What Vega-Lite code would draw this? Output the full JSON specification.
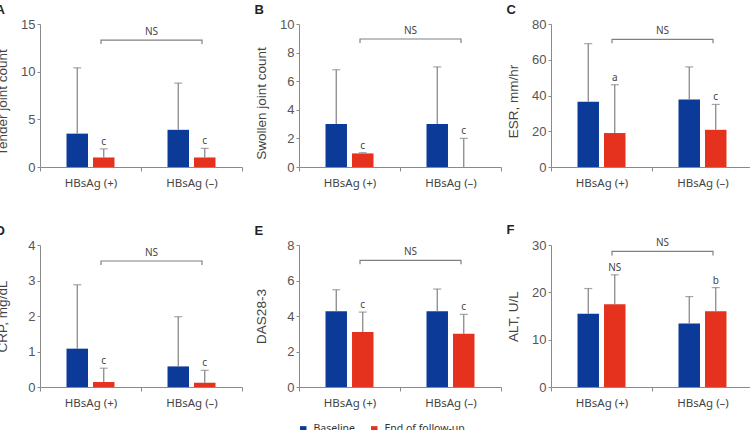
{
  "$schema": "https://vega.github.io/schema/vega-lite/v6.json",
  "padding": {"left": -5, "top": 4, "right": 0, "bottom": 0},
  "background": "white",
  "datasets": {
    "bars": [
      {"panel": "A", "group": "HBsAg (+)", "time": "Baseline", "mean": 3.5, "upper": 10.4, "label": ""},
      {"panel": "A", "group": "HBsAg (+)", "time": "End of follow-up", "mean": 1.0, "upper": 1.9, "label": "c"},
      {"panel": "A", "group": "HBsAg (–)", "time": "Baseline", "mean": 3.9, "upper": 8.8, "label": ""},
      {"panel": "A", "group": "HBsAg (–)", "time": "End of follow-up", "mean": 1.0, "upper": 1.95, "label": "c"},
      {"panel": "B", "group": "HBsAg (+)", "time": "Baseline", "mean": 3.0, "upper": 6.8, "label": ""},
      {"panel": "B", "group": "HBsAg (+)", "time": "End of follow-up", "mean": 0.95, "upper": 1.0, "label": "c"},
      {"panel": "B", "group": "HBsAg (–)", "time": "Baseline", "mean": 3.0, "upper": 7.0, "label": ""},
      {"panel": "B", "group": "HBsAg (–)", "time": "End of follow-up", "mean": 0, "upper": 2.0, "label": "c"},
      {"panel": "C", "group": "HBsAg (+)", "time": "Baseline", "mean": 36.5, "upper": 69, "label": ""},
      {"panel": "C", "group": "HBsAg (+)", "time": "End of follow-up", "mean": 19, "upper": 46, "label": "a"},
      {"panel": "C", "group": "HBsAg (–)", "time": "Baseline", "mean": 37.8, "upper": 56, "label": ""},
      {"panel": "C", "group": "HBsAg (–)", "time": "End of follow-up", "mean": 20.8, "upper": 35, "label": "c"},
      {"panel": "D", "group": "HBsAg (+)", "time": "Baseline", "mean": 1.08, "upper": 2.88, "label": ""},
      {"panel": "D", "group": "HBsAg (+)", "time": "End of follow-up", "mean": 0.14, "upper": 0.53, "label": "c"},
      {"panel": "D", "group": "HBsAg (–)", "time": "Baseline", "mean": 0.58, "upper": 1.98, "label": ""},
      {"panel": "D", "group": "HBsAg (–)", "time": "End of follow-up", "mean": 0.12, "upper": 0.47, "label": "c"},
      {"panel": "E", "group": "HBsAg (+)", "time": "Baseline", "mean": 4.27, "upper": 5.48, "label": ""},
      {"panel": "E", "group": "HBsAg (+)", "time": "End of follow-up", "mean": 3.1, "upper": 4.22, "label": "c"},
      {"panel": "E", "group": "HBsAg (–)", "time": "Baseline", "mean": 4.27, "upper": 5.52, "label": ""},
      {"panel": "E", "group": "HBsAg (–)", "time": "End of follow-up", "mean": 3.0, "upper": 4.09, "label": "c"},
      {"panel": "F", "group": "HBsAg (+)", "time": "Baseline", "mean": 15.5, "upper": 20.8, "label": ""},
      {"panel": "F", "group": "HBsAg (+)", "time": "End of follow-up", "mean": 17.5, "upper": 23.7, "label": "NS"},
      {"panel": "F", "group": "HBsAg (–)", "time": "Baseline", "mean": 13.4, "upper": 19.1, "label": ""},
      {"panel": "F", "group": "HBsAg (–)", "time": "End of follow-up", "mean": 16.0, "upper": 21.0, "label": "b"}
    ],
    "brackets": [
      {"panel": "A", "group": "HBsAg (+)", "level": 12.9, "ord": 1},
      {"panel": "A", "group": "HBsAg (+)", "level": 13.3, "ord": 2},
      {"panel": "A", "group": "HBsAg (–)", "level": 13.3, "ord": 3},
      {"panel": "A", "group": "HBsAg (–)", "level": 12.9, "ord": 4},
      {"panel": "B", "group": "HBsAg (+)", "level": 8.67, "ord": 1},
      {"panel": "B", "group": "HBsAg (+)", "level": 8.95, "ord": 2},
      {"panel": "B", "group": "HBsAg (–)", "level": 8.95, "ord": 3},
      {"panel": "B", "group": "HBsAg (–)", "level": 8.67, "ord": 4},
      {"panel": "C", "group": "HBsAg (+)", "level": 69.2, "ord": 1},
      {"panel": "C", "group": "HBsAg (+)", "level": 71.4, "ord": 2},
      {"panel": "C", "group": "HBsAg (–)", "level": 71.4, "ord": 3},
      {"panel": "C", "group": "HBsAg (–)", "level": 69.2, "ord": 4},
      {"panel": "D", "group": "HBsAg (+)", "level": 3.44, "ord": 1},
      {"panel": "D", "group": "HBsAg (+)", "level": 3.55, "ord": 2},
      {"panel": "D", "group": "HBsAg (–)", "level": 3.55, "ord": 3},
      {"panel": "D", "group": "HBsAg (–)", "level": 3.44, "ord": 4},
      {"panel": "E", "group": "HBsAg (+)", "level": 6.91, "ord": 1},
      {"panel": "E", "group": "HBsAg (+)", "level": 7.13, "ord": 2},
      {"panel": "E", "group": "HBsAg (–)", "level": 7.13, "ord": 3},
      {"panel": "E", "group": "HBsAg (–)", "level": 6.91, "ord": 4},
      {"panel": "F", "group": "HBsAg (+)", "level": 27.8, "ord": 1},
      {"panel": "F", "group": "HBsAg (+)", "level": 28.65, "ord": 2},
      {"panel": "F", "group": "HBsAg (–)", "level": 28.65, "ord": 3},
      {"panel": "F", "group": "HBsAg (–)", "level": 27.8, "ord": 4}
    ],
    "ns": [
      {"panel": "A", "group": "HBsAg (–)", "level": 13.3, "label": "NS"},
      {"panel": "B", "group": "HBsAg (–)", "level": 8.95, "label": "NS"},
      {"panel": "C", "group": "HBsAg (–)", "level": 71.4, "label": "NS"},
      {"panel": "D", "group": "HBsAg (–)", "level": 3.55, "label": "NS"},
      {"panel": "E", "group": "HBsAg (–)", "level": 7.13, "label": "NS"},
      {"panel": "F", "group": "HBsAg (–)", "level": 28.65, "label": "NS"}
    ]
  },
  "vconcat": [
    {"hconcat": [
      {"title": "A", "width": 202, "height": 143, "layer": [
        {"data": {"name": "bars"}, "transform": [{"filter": "datum.panel === 'A'"}], "mark": "bar",
         "encoding": {"x": {"field": "group", "type": "nominal", "sort": ["HBsAg (+)", "HBsAg (–)"], "scale": {"paddingInner": 0, "paddingOuter": 0}, "axis": {"title": null}},
          "xOffset": {"field": "time", "type": "nominal", "sort": ["Baseline", "End of follow-up"], "scale": {"paddingInner": 0.19, "paddingOuter": 1.5}},
          "y": {"field": "mean", "type": "quantitative", "scale": {"domain": [0, 15], "nice": false}, "axis": {"title": "Tender joint count", "values": [0, 5, 10, 15], "titleY": 78}},
          "color": {"field": "time", "type": "nominal", "scale": {"domain": ["Baseline", "End of follow-up"], "range": ["#0b3a98", "#e4321e"]}}}},
        {"data": {"name": "bars"}, "transform": [{"filter": "datum.panel === 'A'"}], "mark": {"type": "rule", "color": "#808080", "strokeWidth": 1.2},
         "encoding": {"x": {"field": "group", "type": "nominal", "axis": {"title": null}}, "xOffset": {"field": "time", "type": "nominal"}, "y": {"field": "mean", "type": "quantitative", "axis": {"title": "Tender joint count", "values": [0, 5, 10, 15], "titleY": 78}}, "y2": {"field": "upper"}}},
        {"data": {"name": "bars"}, "transform": [{"filter": "datum.panel === 'A'"}], "mark": {"type": "tick", "color": "#808080", "thickness": 1.2, "size": 8},
         "encoding": {"x": {"field": "group", "type": "nominal", "axis": {"title": null}}, "xOffset": {"field": "time", "type": "nominal"}, "y": {"field": "upper", "type": "quantitative", "axis": {"title": "Tender joint count", "values": [0, 5, 10, 15], "titleY": 78}}}},
        {"data": {"name": "bars"}, "transform": [{"filter": "datum.panel === 'A'"}], "mark": {"type": "text", "baseline": "bottom", "dy": -2, "font": "Noto Sans", "fontSize": 10, "color": "#444"},
         "encoding": {"x": {"field": "group", "type": "nominal", "axis": {"title": null}}, "xOffset": {"field": "time", "type": "nominal"}, "y": {"field": "upper", "type": "quantitative", "axis": {"title": "Tender joint count", "values": [0, 5, 10, 15], "titleY": 78}}, "text": {"field": "label"}}},
        {"data": {"name": "brackets"}, "transform": [{"filter": "datum.panel === 'A'"}], "mark": {"type": "line", "color": "#808080", "strokeWidth": 1.2},
         "encoding": {"x": {"field": "group", "type": "nominal", "bandPosition": 0.604, "axis": {"title": null}}, "y": {"field": "level", "type": "quantitative", "axis": {"title": "Tender joint count", "values": [0, 5, 10, 15], "titleY": 78}}, "order": {"field": "ord"}}},
        {"data": {"name": "ns"}, "transform": [{"filter": "datum.panel === 'A'"}], "mark": {"type": "text", "baseline": "bottom", "dy": -3, "font": "Noto Sans", "fontSize": 10, "color": "#444"},
         "encoding": {"x": {"field": "group", "type": "nominal", "bandPosition": 0.104, "axis": {"title": null}}, "y": {"field": "level", "type": "quantitative", "axis": {"title": "Tender joint count", "values": [0, 5, 10, 15], "titleY": 78}}, "text": {"field": "label"}}}
      ]},
      {"spacing": 4, "hconcat": [
        {"title": "B", "width": 202, "height": 143, "layer": [
          {"data": {"name": "bars"}, "transform": [{"filter": "datum.panel === 'B'"}], "mark": "bar",
           "encoding": {"x": {"field": "group", "type": "nominal", "sort": ["HBsAg (+)", "HBsAg (–)"], "scale": {"paddingInner": 0, "paddingOuter": 0}, "axis": {"title": null}},
            "xOffset": {"field": "time", "type": "nominal", "sort": ["Baseline", "End of follow-up"], "scale": {"paddingInner": 0.19, "paddingOuter": 1.5}},
            "y": {"field": "mean", "type": "quantitative", "scale": {"domain": [0, 10], "nice": false}, "axis": {"title": "Swollen joint count", "values": [0, 2, 4, 6, 8, 10], "titleY": 79}},
            "color": {"field": "time", "type": "nominal", "scale": {"domain": ["Baseline", "End of follow-up"], "range": ["#0b3a98", "#e4321e"]}}}},
          {"data": {"name": "bars"}, "transform": [{"filter": "datum.panel === 'B'"}], "mark": {"type": "rule", "color": "#808080", "strokeWidth": 1.2},
           "encoding": {"x": {"field": "group", "type": "nominal", "axis": {"title": null}}, "xOffset": {"field": "time", "type": "nominal"}, "y": {"field": "mean", "type": "quantitative", "axis": {"title": "Swollen joint count", "values": [0, 2, 4, 6, 8, 10], "titleY": 79}}, "y2": {"field": "upper"}}},
          {"data": {"name": "bars"}, "transform": [{"filter": "datum.panel === 'B'"}], "mark": {"type": "tick", "color": "#808080", "thickness": 1.2, "size": 8},
           "encoding": {"x": {"field": "group", "type": "nominal", "axis": {"title": null}}, "xOffset": {"field": "time", "type": "nominal"}, "y": {"field": "upper", "type": "quantitative", "axis": {"title": "Swollen joint count", "values": [0, 2, 4, 6, 8, 10], "titleY": 79}}}},
          {"data": {"name": "bars"}, "transform": [{"filter": "datum.panel === 'B'"}], "mark": {"type": "text", "baseline": "bottom", "dy": -2, "font": "Noto Sans", "fontSize": 10, "color": "#444"},
           "encoding": {"x": {"field": "group", "type": "nominal", "axis": {"title": null}}, "xOffset": {"field": "time", "type": "nominal"}, "y": {"field": "upper", "type": "quantitative", "axis": {"title": "Swollen joint count", "values": [0, 2, 4, 6, 8, 10], "titleY": 79}}, "text": {"field": "label"}}},
          {"data": {"name": "brackets"}, "transform": [{"filter": "datum.panel === 'B'"}], "mark": {"type": "line", "color": "#808080", "strokeWidth": 1.2},
           "encoding": {"x": {"field": "group", "type": "nominal", "bandPosition": 0.604, "axis": {"title": null}}, "y": {"field": "level", "type": "quantitative", "axis": {"title": "Swollen joint count", "values": [0, 2, 4, 6, 8, 10], "titleY": 79}}, "order": {"field": "ord"}}},
          {"data": {"name": "ns"}, "transform": [{"filter": "datum.panel === 'B'"}], "mark": {"type": "text", "baseline": "bottom", "dy": -3, "font": "Noto Sans", "fontSize": 10, "color": "#444"},
           "encoding": {"x": {"field": "group", "type": "nominal", "bandPosition": 0.104, "axis": {"title": null}}, "y": {"field": "level", "type": "quantitative", "axis": {"title": "Swollen joint count", "values": [0, 2, 4, 6, 8, 10], "titleY": 79}}, "text": {"field": "label"}}}
        ]},
        {"title": "C", "width": 202, "height": 143, "layer": [
          {"data": {"name": "bars"}, "transform": [{"filter": "datum.panel === 'C'"}], "mark": "bar",
           "encoding": {"x": {"field": "group", "type": "nominal", "sort": ["HBsAg (+)", "HBsAg (–)"], "scale": {"paddingInner": 0, "paddingOuter": 0}, "axis": {"title": null}},
            "xOffset": {"field": "time", "type": "nominal", "sort": ["Baseline", "End of follow-up"], "scale": {"paddingInner": 0.19, "paddingOuter": 1.5}},
            "y": {"field": "mean", "type": "quantitative", "scale": {"domain": [0, 80], "nice": false}, "axis": {"title": "ESR, mm/hr", "values": [0, 20, 40, 60, 80], "titleY": 77}},
            "color": {"field": "time", "type": "nominal", "scale": {"domain": ["Baseline", "End of follow-up"], "range": ["#0b3a98", "#e4321e"]}}}},
          {"data": {"name": "bars"}, "transform": [{"filter": "datum.panel === 'C'"}], "mark": {"type": "rule", "color": "#808080", "strokeWidth": 1.2},
           "encoding": {"x": {"field": "group", "type": "nominal", "axis": {"title": null}}, "xOffset": {"field": "time", "type": "nominal"}, "y": {"field": "mean", "type": "quantitative", "axis": {"title": "ESR, mm/hr", "values": [0, 20, 40, 60, 80], "titleY": 77}}, "y2": {"field": "upper"}}},
          {"data": {"name": "bars"}, "transform": [{"filter": "datum.panel === 'C'"}], "mark": {"type": "tick", "color": "#808080", "thickness": 1.2, "size": 8},
           "encoding": {"x": {"field": "group", "type": "nominal", "axis": {"title": null}}, "xOffset": {"field": "time", "type": "nominal"}, "y": {"field": "upper", "type": "quantitative", "axis": {"title": "ESR, mm/hr", "values": [0, 20, 40, 60, 80], "titleY": 77}}}},
          {"data": {"name": "bars"}, "transform": [{"filter": "datum.panel === 'C'"}], "mark": {"type": "text", "baseline": "bottom", "dy": -2, "font": "Noto Sans", "fontSize": 10, "color": "#444"},
           "encoding": {"x": {"field": "group", "type": "nominal", "axis": {"title": null}}, "xOffset": {"field": "time", "type": "nominal"}, "y": {"field": "upper", "type": "quantitative", "axis": {"title": "ESR, mm/hr", "values": [0, 20, 40, 60, 80], "titleY": 77}}, "text": {"field": "label"}}},
          {"data": {"name": "brackets"}, "transform": [{"filter": "datum.panel === 'C'"}], "mark": {"type": "line", "color": "#808080", "strokeWidth": 1.2},
           "encoding": {"x": {"field": "group", "type": "nominal", "bandPosition": 0.604, "axis": {"title": null}}, "y": {"field": "level", "type": "quantitative", "axis": {"title": "ESR, mm/hr", "values": [0, 20, 40, 60, 80], "titleY": 77}}, "order": {"field": "ord"}}},
          {"data": {"name": "ns"}, "transform": [{"filter": "datum.panel === 'C'"}], "mark": {"type": "text", "baseline": "bottom", "dy": -3, "font": "Noto Sans", "fontSize": 10, "color": "#444"},
           "encoding": {"x": {"field": "group", "type": "nominal", "bandPosition": 0.104, "axis": {"title": null}}, "y": {"field": "level", "type": "quantitative", "axis": {"title": "ESR, mm/hr", "values": [0, 20, 40, 60, 80], "titleY": 77}}, "text": {"field": "label"}}}
        ]}
      ]}
    ], "spacing": 11},
    {"hconcat": [
      {"title": "D", "width": 202, "height": 142, "layer": [
        {"data": {"name": "bars"}, "transform": [{"filter": "datum.panel === 'D'"}], "mark": "bar",
         "encoding": {"x": {"field": "group", "type": "nominal", "sort": ["HBsAg (+)", "HBsAg (–)"], "scale": {"paddingInner": 0, "paddingOuter": 0}, "axis": {"title": null}},
          "xOffset": {"field": "time", "type": "nominal", "sort": ["Baseline", "End of follow-up"], "scale": {"paddingInner": 0.19, "paddingOuter": 1.5}},
          "y": {"field": "mean", "type": "quantitative", "scale": {"domain": [0, 4], "nice": false}, "axis": {"title": "CRP, mg/dL", "values": [0, 1, 2, 3, 4]}},
          "color": {"field": "time", "type": "nominal", "scale": {"domain": ["Baseline", "End of follow-up"], "range": ["#0b3a98", "#e4321e"]}}}},
        {"data": {"name": "bars"}, "transform": [{"filter": "datum.panel === 'D'"}], "mark": {"type": "rule", "color": "#808080", "strokeWidth": 1.2},
         "encoding": {"x": {"field": "group", "type": "nominal", "axis": {"title": null}}, "xOffset": {"field": "time", "type": "nominal"}, "y": {"field": "mean", "type": "quantitative", "axis": {"title": "CRP, mg/dL", "values": [0, 1, 2, 3, 4]}}, "y2": {"field": "upper"}}},
        {"data": {"name": "bars"}, "transform": [{"filter": "datum.panel === 'D'"}], "mark": {"type": "tick", "color": "#808080", "thickness": 1.2, "size": 8},
         "encoding": {"x": {"field": "group", "type": "nominal", "axis": {"title": null}}, "xOffset": {"field": "time", "type": "nominal"}, "y": {"field": "upper", "type": "quantitative", "axis": {"title": "CRP, mg/dL", "values": [0, 1, 2, 3, 4]}}}},
        {"data": {"name": "bars"}, "transform": [{"filter": "datum.panel === 'D'"}], "mark": {"type": "text", "baseline": "bottom", "dy": -2, "font": "Noto Sans", "fontSize": 10, "color": "#444"},
         "encoding": {"x": {"field": "group", "type": "nominal", "axis": {"title": null}}, "xOffset": {"field": "time", "type": "nominal"}, "y": {"field": "upper", "type": "quantitative", "axis": {"title": "CRP, mg/dL", "values": [0, 1, 2, 3, 4]}}, "text": {"field": "label"}}},
        {"data": {"name": "brackets"}, "transform": [{"filter": "datum.panel === 'D'"}], "mark": {"type": "line", "color": "#808080", "strokeWidth": 1.2},
         "encoding": {"x": {"field": "group", "type": "nominal", "bandPosition": 0.604, "axis": {"title": null}}, "y": {"field": "level", "type": "quantitative", "axis": {"title": "CRP, mg/dL", "values": [0, 1, 2, 3, 4]}}, "order": {"field": "ord"}}},
        {"data": {"name": "ns"}, "transform": [{"filter": "datum.panel === 'D'"}], "mark": {"type": "text", "baseline": "bottom", "dy": -3, "font": "Noto Sans", "fontSize": 10, "color": "#444"},
         "encoding": {"x": {"field": "group", "type": "nominal", "bandPosition": 0.104, "axis": {"title": null}}, "y": {"field": "level", "type": "quantitative", "axis": {"title": "CRP, mg/dL", "values": [0, 1, 2, 3, 4]}}, "text": {"field": "label"}}}
      ]},
      {"spacing": 4, "hconcat": [
        {"title": "E", "width": 202, "height": 142, "layer": [
          {"data": {"name": "bars"}, "transform": [{"filter": "datum.panel === 'E'"}], "mark": "bar",
           "encoding": {"x": {"field": "group", "type": "nominal", "sort": ["HBsAg (+)", "HBsAg (–)"], "scale": {"paddingInner": 0, "paddingOuter": 0}, "axis": {"title": null}},
            "xOffset": {"field": "time", "type": "nominal", "sort": ["Baseline", "End of follow-up"], "scale": {"paddingInner": 0.19, "paddingOuter": 1.5}},
            "y": {"field": "mean", "type": "quantitative", "scale": {"domain": [0, 8], "nice": false}, "axis": {"title": "DAS28-3", "values": [0, 2, 4, 6, 8]}},
            "color": {"field": "time", "type": "nominal", "scale": {"domain": ["Baseline", "End of follow-up"], "range": ["#0b3a98", "#e4321e"]}}}},
          {"data": {"name": "bars"}, "transform": [{"filter": "datum.panel === 'E'"}], "mark": {"type": "rule", "color": "#808080", "strokeWidth": 1.2},
           "encoding": {"x": {"field": "group", "type": "nominal", "axis": {"title": null}}, "xOffset": {"field": "time", "type": "nominal"}, "y": {"field": "mean", "type": "quantitative", "axis": {"title": "DAS28-3", "values": [0, 2, 4, 6, 8]}}, "y2": {"field": "upper"}}},
          {"data": {"name": "bars"}, "transform": [{"filter": "datum.panel === 'E'"}], "mark": {"type": "tick", "color": "#808080", "thickness": 1.2, "size": 8},
           "encoding": {"x": {"field": "group", "type": "nominal", "axis": {"title": null}}, "xOffset": {"field": "time", "type": "nominal"}, "y": {"field": "upper", "type": "quantitative", "axis": {"title": "DAS28-3", "values": [0, 2, 4, 6, 8]}}}},
          {"data": {"name": "bars"}, "transform": [{"filter": "datum.panel === 'E'"}], "mark": {"type": "text", "baseline": "bottom", "dy": -2, "font": "Noto Sans", "fontSize": 10, "color": "#444"},
           "encoding": {"x": {"field": "group", "type": "nominal", "axis": {"title": null}}, "xOffset": {"field": "time", "type": "nominal"}, "y": {"field": "upper", "type": "quantitative", "axis": {"title": "DAS28-3", "values": [0, 2, 4, 6, 8]}}, "text": {"field": "label"}}},
          {"data": {"name": "brackets"}, "transform": [{"filter": "datum.panel === 'E'"}], "mark": {"type": "line", "color": "#808080", "strokeWidth": 1.2},
           "encoding": {"x": {"field": "group", "type": "nominal", "bandPosition": 0.604, "axis": {"title": null}}, "y": {"field": "level", "type": "quantitative", "axis": {"title": "DAS28-3", "values": [0, 2, 4, 6, 8]}}, "order": {"field": "ord"}}},
          {"data": {"name": "ns"}, "transform": [{"filter": "datum.panel === 'E'"}], "mark": {"type": "text", "baseline": "bottom", "dy": -3, "font": "Noto Sans", "fontSize": 10, "color": "#444"},
           "encoding": {"x": {"field": "group", "type": "nominal", "bandPosition": 0.104, "axis": {"title": null}}, "y": {"field": "level", "type": "quantitative", "axis": {"title": "DAS28-3", "values": [0, 2, 4, 6, 8]}}, "text": {"field": "label"}}}
        ]},
        {"title": "F", "width": 202, "height": 142, "layer": [
          {"data": {"name": "bars"}, "transform": [{"filter": "datum.panel === 'F'"}], "mark": "bar",
           "encoding": {"x": {"field": "group", "type": "nominal", "sort": ["HBsAg (+)", "HBsAg (–)"], "scale": {"paddingInner": 0, "paddingOuter": 0}, "axis": {"title": null}},
            "xOffset": {"field": "time", "type": "nominal", "sort": ["Baseline", "End of follow-up"], "scale": {"paddingInner": 0.19, "paddingOuter": 1.5}},
            "y": {"field": "mean", "type": "quantitative", "scale": {"domain": [0, 30], "nice": false}, "axis": {"title": "ALT, U/L", "values": [0, 10, 20, 30]}},
            "color": {"field": "time", "type": "nominal", "scale": {"domain": ["Baseline", "End of follow-up"], "range": ["#0b3a98", "#e4321e"]}}}},
          {"data": {"name": "bars"}, "transform": [{"filter": "datum.panel === 'F'"}], "mark": {"type": "rule", "color": "#808080", "strokeWidth": 1.2},
           "encoding": {"x": {"field": "group", "type": "nominal", "axis": {"title": null}}, "xOffset": {"field": "time", "type": "nominal"}, "y": {"field": "mean", "type": "quantitative", "axis": {"title": "ALT, U/L", "values": [0, 10, 20, 30]}}, "y2": {"field": "upper"}}},
          {"data": {"name": "bars"}, "transform": [{"filter": "datum.panel === 'F'"}], "mark": {"type": "tick", "color": "#808080", "thickness": 1.2, "size": 8},
           "encoding": {"x": {"field": "group", "type": "nominal", "axis": {"title": null}}, "xOffset": {"field": "time", "type": "nominal"}, "y": {"field": "upper", "type": "quantitative", "axis": {"title": "ALT, U/L", "values": [0, 10, 20, 30]}}}},
          {"data": {"name": "bars"}, "transform": [{"filter": "datum.panel === 'F'"}], "mark": {"type": "text", "baseline": "bottom", "dy": -2, "font": "Noto Sans", "fontSize": 10, "color": "#444"},
           "encoding": {"x": {"field": "group", "type": "nominal", "axis": {"title": null}}, "xOffset": {"field": "time", "type": "nominal"}, "y": {"field": "upper", "type": "quantitative", "axis": {"title": "ALT, U/L", "values": [0, 10, 20, 30]}}, "text": {"field": "label"}}},
          {"data": {"name": "brackets"}, "transform": [{"filter": "datum.panel === 'F'"}], "mark": {"type": "line", "color": "#808080", "strokeWidth": 1.2},
           "encoding": {"x": {"field": "group", "type": "nominal", "bandPosition": 0.604, "axis": {"title": null}}, "y": {"field": "level", "type": "quantitative", "axis": {"title": "ALT, U/L", "values": [0, 10, 20, 30]}}, "order": {"field": "ord"}}},
          {"data": {"name": "ns"}, "transform": [{"filter": "datum.panel === 'F'"}], "mark": {"type": "text", "baseline": "bottom", "dy": -3, "font": "Noto Sans", "fontSize": 10, "color": "#444"},
           "encoding": {"x": {"field": "group", "type": "nominal", "bandPosition": 0.104, "axis": {"title": null}}, "y": {"field": "level", "type": "quantitative", "axis": {"title": "ALT, U/L", "values": [0, 10, 20, 30]}}, "text": {"field": "label"}}}
        ]}
      ]}
    ], "spacing": 11}
  ],
  "spacing": 35,
  "config": {
    "view": {"stroke": null},
    "title": {"anchor": "start", "frame": "bounds", "font": "Liberation Sans", "fontSize": 13, "fontWeight": "bold", "color": "#222", "offset": 1},
    "axisY": {"domainColor": "#8a8a8a", "tickColor": "#8a8a8a", "tickSize": 3, "grid": false, "labelFont": "Liberation Sans", "labelFontSize": 13, "labelColor": "#555", "labelPadding": 2, "titleFont": "Liberation Sans", "titleFontSize": 13.5, "titleFontWeight": "normal", "titleColor": "#444", "titleX": -37.5, "titleBaseline": "middle"},
    "axisX": {"domainColor": "#8a8a8a", "tickColor": "#8a8a8a", "tickSize": 4, "tickBand": "extent", "grid": false, "labelFont": "Noto Sans", "labelFontSize": 11.5, "labelColor": "#444", "labelAngle": 0, "labelPadding": 6},
    "legend": {"orient": "none", "legendX": 258, "legendY": 400, "direction": "horizontal", "title": null, "symbolType": "square", "symbolSize": 42, "labelFont": "Noto Sans", "labelFontSize": 10.5, "labelColor": "#333", "columnPadding": 14, "labelOffset": 5}
  }
}
